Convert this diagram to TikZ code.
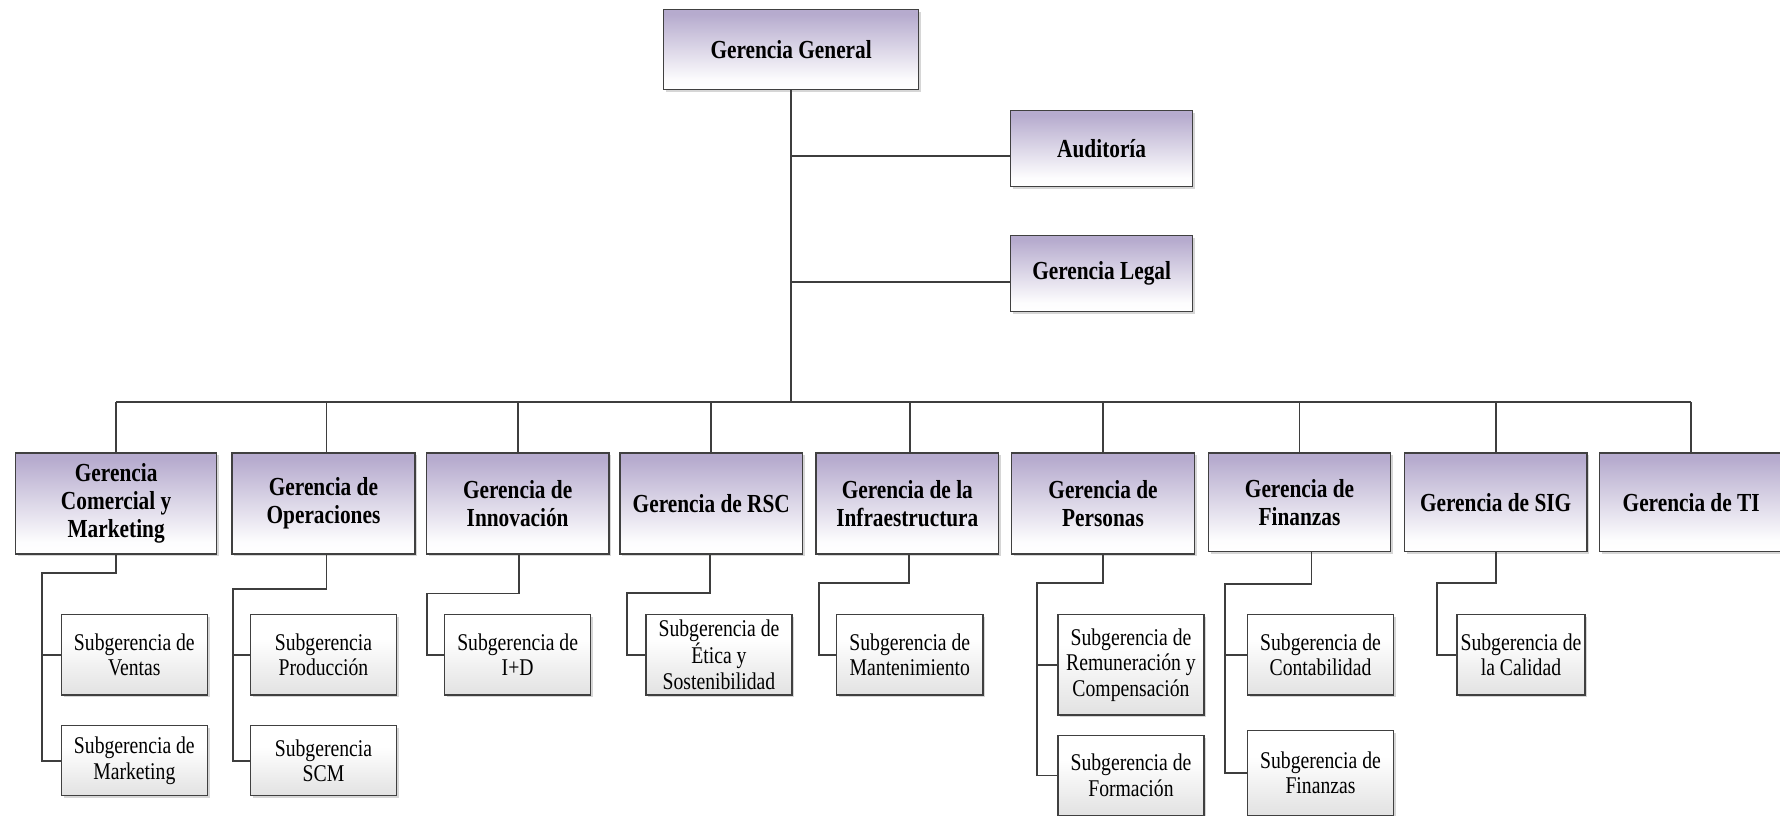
\documentclass[tikz,border=0pt]{standalone}
\usepackage{fontspec}
\setmainfont{Liberation Serif}[FakeStretch=0.82]
\usetikzlibrary{calc,shadows}

\definecolor{lav}{RGB}{182,171,206}
\definecolor{subgray}{RGB}{226,226,226}
\definecolor{edge}{RGB}{64,64,64}
\definecolor{wire}{RGB}{62,62,62}

% box fills: lavender fading to white, and white fading to light grey
\pgfdeclareverticalshading{lavfade}{100bp}{color(0bp)=(white); color(25bp)=(white); color(31bp)=(white!97!lav); color(66bp)=(lav!85); color(72bp)=(lav); color(100bp)=(lav)}
\pgfdeclareverticalshading{grayfade}{100bp}{color(0bp)=(subgray); color(25bp)=(subgray); color(60bp)=(white); color(100bp)=(white)}

\begin{document}
\begin{tikzpicture}[x=1pt,y=-1pt,
  boxbase/.style={draw=edge, line width=1.3pt, inner sep=0pt, anchor=north west, align=center,
    drop shadow={shadow xshift=2.5pt, shadow yshift=-2.5pt, fill=black, opacity=0.16}},
  unit/.style={boxbase, shade, shading=lavfade, font=\fontsize{26}{28.2}\selectfont\bfseries},
  subunit/.style={boxbase, shade, shading=grayfade, font=\fontsize{24}{25.5}\selectfont},
  conn/.style={draw=wire, line width=1.8pt}]

\useasboundingbox (0,0) rectangle (1780,816);

% top level
\node[unit, minimum width=255pt, minimum height=80pt] (gg) at (663,9) {Gerencia General};
\node[unit, minimum width=182pt, minimum height=76pt] (aud) at (1010,110) {Auditoría};
\node[unit, minimum width=182pt, minimum height=76pt] (leg) at (1010,235) {Gerencia Legal};

% managements
\node[unit, minimum width=201pt, minimum height=101pt] (com) at (15,452.3) {Gerencia\\Comercial y\\Marketing};
\node[unit, minimum width=183pt, minimum height=101pt] (ope) at (231.3,452.3) {Gerencia de\\Operaciones};
\node[unit, minimum width=182.6pt, minimum height=101pt] (inn) at (425.7,452.3) {Gerencia de\\Innovación};
\node[unit, minimum width=182.7pt, minimum height=101pt] (rsc) at (619.3,452.3) {Gerencia de RSC};
\node[unit, minimum width=182.7pt, minimum height=101pt] (inf) at (815.3,452.3) {Gerencia de la\\Infraestructura};
\node[unit, minimum width=182.7pt, minimum height=101pt] (per) at (1011,452.3) {Gerencia de\\Personas};
\node[unit, minimum width=182.3pt, minimum height=98.7pt] (fin) at (1207.7,452.3) {Gerencia de\\Finanzas};
\node[unit, minimum width=182.6pt, minimum height=98.7pt] (sig) at (1403.7,452.3) {Gerencia de SIG};
\node[unit, minimum width=183pt, minimum height=98.7pt] (ti) at (1599,452.3) {Gerencia de TI};

% sub-managements
\node[subunit, minimum width=146pt, minimum height=80.3pt] (ventas) at (60.7,614) {Subgerencia de\\Ventas};
\node[subunit, minimum width=146pt, minimum height=70pt] (mkt) at (60.7,725) {Subgerencia de\\Marketing};
\node[subunit, minimum width=146.3pt, minimum height=80.3pt] (prod) at (249.7,614) {Subgerencia\\Producción};
\node[subunit, minimum width=146.3pt, minimum height=70pt] (scm) at (249.7,725) {Subgerencia\\SCM};
\node[subunit, minimum width=146pt, minimum height=80.3pt] (idp) at (444,614) {Subgerencia de\\I+D};
\node[subunit, minimum width=146pt, minimum height=80.3pt] (etica) at (645.3,614) {Subgerencia de\\Ética y\\Sostenibilidad};
\node[subunit, minimum width=146.3pt, minimum height=80.3pt] (mant) at (836,614) {Subgerencia de\\Mantenimiento};
\node[subunit, minimum width=146pt, minimum height=100.3pt] (remu) at (1057.3,614) {Subgerencia de\\Remuneración y\\Compensación};
\node[subunit, minimum width=146pt, minimum height=79.5pt] (form) at (1057.3,735) {Subgerencia de\\Formación};
\node[subunit, minimum width=146.3pt, minimum height=80.3pt] (cont) at (1246.7,614) {Subgerencia de\\Contabilidad};
\node[subunit, minimum width=146.3pt, minimum height=84.5pt] (fins) at (1246.7,730) {Subgerencia de\\Finanzas};
\node[subunit, minimum width=128pt, minimum height=80.3pt] (cal) at (1456.3,614) {Subgerencia de\\la Calidad};

% trunk, staff branches and bus
\coordinate (busy) at (0,401.7);
\coordinate (audin) at ($(aud.west)+(0,7.4)$);
\coordinate (legin) at ($(leg.west)+(0,8)$);
\draw[conn] (gg.south) -- (gg.south |- busy);
\draw[conn] (gg.south |- audin) -- (audin);
\draw[conn] (gg.south |- legin) -- (legin);
\draw[conn] (com.north |- busy) -- (ti.north |- busy);

% stems down to each management
\foreach \n in {com,inn,rsc,per,fin,sig,ti}
  \draw[conn] (\n.north) -- (\n.north |- busy);
\draw[conn] ([xshift=3pt]ope.north) -- ([xshift=3pt]ope.north |- busy);
\draw[conn] ([xshift=2.6pt]inf.north) -- ([xshift=2.6pt]inf.north |- busy);

% elbows of the sub-management branches
\coordinate (comE) at (42,572.7);
\coordinate (opeE) at (233.3,589.3);
\coordinate (innE) at (427.3,593.5);
\coordinate (rscE) at (627.3,593.3);
\coordinate (infE) at (818.7,583.3);
\coordinate (perE) at (1037.3,583.3);
\coordinate (finE) at (1225,584.3);
\coordinate (sigE) at (1437.3,583.3);

\draw[conn] (com.south) |- (comE) |- (ventas.west);
\draw[conn] (comE) |- (mkt.west);
\draw[conn] ([xshift=3pt]ope.south) |- (opeE) |- (prod.west);
\draw[conn] (opeE) |- (scm.west);
\draw[conn] ([xshift=1pt]inn.south) |- (innE) |- (idp.west);
\draw[conn] ([xshift=-1.6pt]rsc.south) |- (rscE) |- (etica.west);
\draw[conn] ([xshift=1.4pt]inf.south) |- (infE) |- (mant.west);
\draw[conn] (per.south) |- (perE) |- (remu.west);
\draw[conn] (perE) |- (form.west);
\draw[conn] ([xshift=12pt]fin.south) |- (finE) |- (cont.west);
\draw[conn] (finE) |- (fins.west);
\draw[conn] (sig.south) |- (sigE) |- (cal.west);

\end{tikzpicture}
\end{document}
